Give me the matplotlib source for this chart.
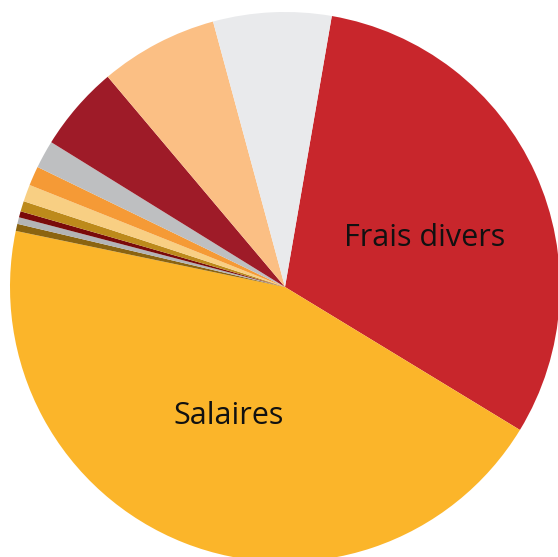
import matplotlib
matplotlib.use('Agg')
import matplotlib.pyplot as plt

# parts du budget (%), dans le sens horaire depuis "Frais divers"
categories = ['Frais divers', 'Salaires', 'Autre 1', 'Autre 2', 'Autre 3', 'Autre 4',
              'Autre 5', 'Autre 6', 'Autre 7', 'Autre 8', 'Autre 9', 'Autre 10']
valeurs = [31.0, 44.6, 0.42, 0.39, 0.36, 0.61, 1.0, 1.14, 1.64, 5.03, 6.94, 6.94]
couleurs = ['#C8262C', '#FBB52A', '#8B6410', '#B3B4B6', '#7A0A0A', '#BD8A1B',
            '#F8CF83', '#F59A36', '#BEBFC1', '#9E1B28', '#FBBF84', '#E9EAEC']
etiquettes = ['Frais divers', 'Salaires']

fig = plt.figure(figsize=(5.58, 5.57), dpi=100)
ax = fig.add_axes([0, 0, 1, 1])

ax.pie(valeurs, colors=couleurs, startangle=80.2, counterclock=False,
       radius=1.0, wedgeprops={'linewidth': 0})

# centre a (285, 287) px, rayon 275 px
R = 275.0
ax.set_xlim(-285 / R, (558 - 285) / R)
ax.set_ylim((287 - 557) / R, 287 / R)
ax.set_aspect('auto')
ax.axis('off')

ax.text(140 / R, 49 / R, etiquettes[0], ha='center', va='center',
        fontsize=22, family='Open Sans', color='#111111')
ax.text(-56 / R, -129 / R, etiquettes[1], ha='center', va='center',
        fontsize=22, family='Open Sans', color='#111111')

fig.savefig('out.png', dpi=100, facecolor='white')
